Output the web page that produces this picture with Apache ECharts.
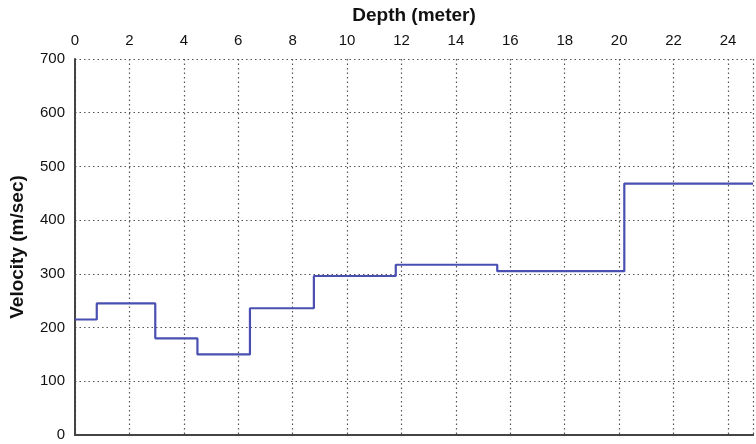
<!DOCTYPE html>
<html><head><meta charset="utf-8">
<script src="https://cdn.jsdelivr.net/npm/echarts@6/dist/echarts.min.js"></script>
<style>html,body{margin:0;padding:0;background:#fff}#c{width:756px;height:444px}</style>
</head><body><div id="c"></div>
<script>
const depthBoundaries = [0, 0.8, 2.95, 4.5, 6.43, 8.78, 11.79, 15.52, 20.19, 24.92];
const velocities = [215, 245, 180, 150, 236, 296, 317, 305, 468];
const xTicks = [0, 2, 4, 6, 8, 10, 12, 14, 16, 18, 20, 22, 24];
const yTicks = [0, 100, 200, 300, 400, 500, 600, 700];

const data = depthBoundaries.map((d, i) => [d, velocities[Math.min(i, velocities.length - 1)]]);
const font = 'Liberation Sans, Arial, sans-serif';
const chart = echarts.init(document.getElementById('c'), null, {renderer: 'canvas'});
chart.setOption({
  animation: false,
  grid: {left: 74, right: 0, top: 59, bottom: 9, containLabel: false},
  xAxis: [{
    type: 'value', position: 'top', min: 0, max: 24.92, interval: 2,
    name: 'Depth (meter)', nameLocation: 'middle', nameGap: 34,
    nameTextStyle: {fontFamily: font, fontWeight: 'bold', fontSize: 19, color: '#111'},
    axisLine: {show: true, lineStyle: {color: '#444', width: 2}},
    axisTick: {show: false},
    axisLabel: {fontFamily: font, fontSize: 15, color: '#111', margin: 11,
      formatter: v => xTicks.includes(v) ? String(v) : ''},
    splitLine: {show: true, lineStyle: {color: '#555', type: [1.5, 3], width: 1.2}}
  }, {
    type: 'value', position: 'bottom', min: 0, max: 24.92,
    axisLine: {show: true, lineStyle: {color: '#444', width: 2}},
    axisTick: {show: false}, axisLabel: {show: false}, splitLine: {show: false}
  }],
  yAxis: {
    type: 'value', min: 0, max: 700, interval: 100,
    name: 'Velocity (m/sec)', nameLocation: 'middle', nameGap: 48,
    nameTextStyle: {fontFamily: font, fontWeight: 'bold', fontSize: 19, color: '#111'},
    axisLine: {show: true, lineStyle: {color: '#444', width: 2}},
    axisTick: {show: false},
    axisLabel: {fontFamily: font, fontSize: 15, color: '#111', margin: 10,
      formatter: v => yTicks.includes(v) ? String(v) : ''},
    splitLine: {show: true, lineStyle: {color: '#555', type: [1.5, 3], width: 1.2}}
  },
  series: [{
    type: 'line', xAxisIndex: 0, step: 'end', data: data, symbol: 'none',
    lineStyle: {color: '#4a4fb2', width: 2.2}
  }]
});
</script></body></html>
